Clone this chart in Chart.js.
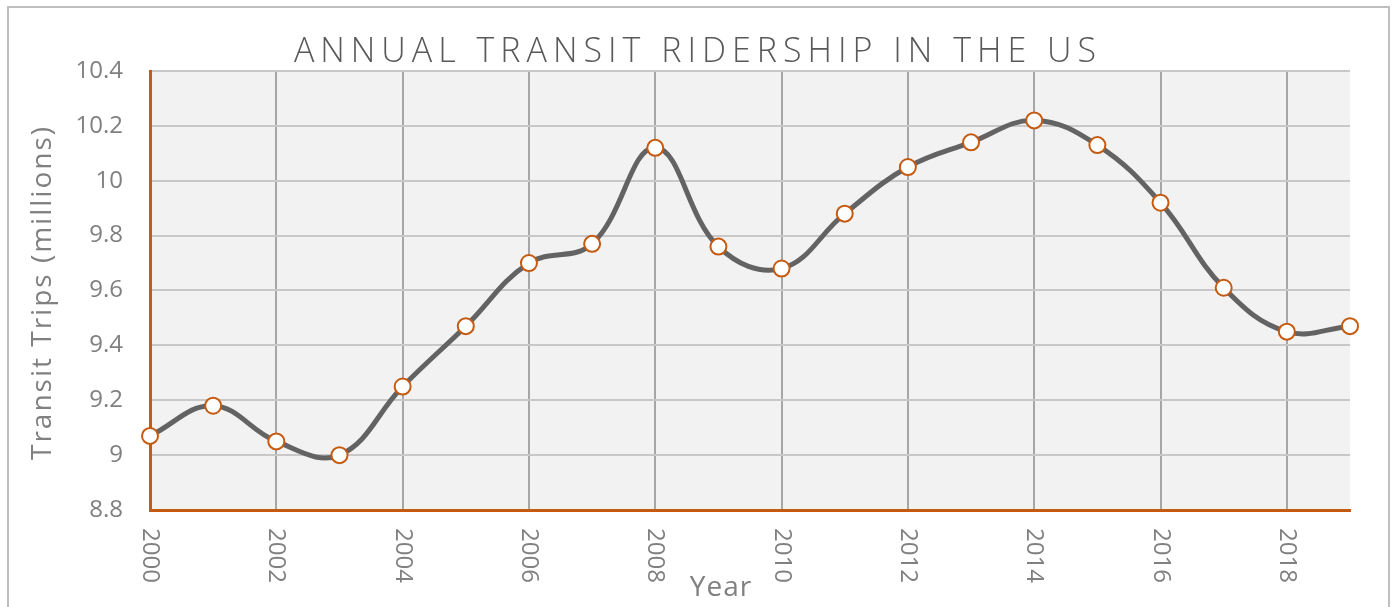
<!DOCTYPE html>
<html>
<head>
<meta charset="utf-8">
<script src="https://cdn.jsdelivr.net/npm/chart.js@4"></script>
<style>
  html, body { margin: 0; padding: 0; background: #fff; }
  #wrap { width: 1392px; height: 607px; }
</style>
</head>
<body>
<div id="wrap"><canvas id="ridership" width="1392" height="607"></canvas></div>
<script>
const years = ['2000', '2001', '2002', '2003', '2004', '2005', '2006', '2007', '2008', '2009',
  '2010', '2011', '2012', '2013', '2014', '2015', '2016', '2017', '2018', '2019'];
const trips = [9.07, 9.18, 9.05, 9.00, 9.25, 9.47, 9.70, 9.77, 10.12, 9.76,
  9.68, 9.88, 10.05, 10.14, 10.22, 10.13, 9.92, 9.61, 9.45, 9.47];
const chartTitle = 'ANNUAL TRANSIT RIDERSHIP IN THE US';
const xTitle = 'Year';
const yTitle = 'Transit Trips (millions)';

const orange = '#c55a11';
const textGray = '#808080';
const font = "'Open Sans', 'Noto Sans', sans-serif";

// plot background, outer frame, titles and the top-to-bottom year labels
const decor = {
  id: 'decor',
  beforeDraw(chart) {
    const { ctx, chartArea: a } = chart;
    ctx.save();
    ctx.fillStyle = '#f2f2f2';
    ctx.fillRect(a.left, a.top, a.right - a.left, a.bottom - a.top);
    ctx.strokeStyle = '#bfbfbf';
    ctx.lineWidth = 2;
    ctx.strokeRect(8, 7, 1381, 640);
    ctx.restore();
  },
  afterDraw(chart) {
    const { ctx, chartArea: a } = chart;
    const x = chart.scales.x;
    ctx.save();
    ctx.fillStyle = '#595959';
    ctx.font = '300 34px ' + font;
    ctx.letterSpacing = '6px';
    ctx.textAlign = 'center';
    ctx.textBaseline = 'alphabetic';
    ctx.fillText(chartTitle, 698, 62);
    ctx.restore();

    ctx.save();
    ctx.fillStyle = textGray;
    ctx.font = '24px ' + font;
    ctx.textAlign = 'left';
    ctx.textBaseline = 'middle';
    x.ticks.forEach((t, i) => {
      if (t.label == null) return;
      const px = x.getPixelForTick(i);
      ctx.save();
      ctx.translate(px, 528);
      ctx.rotate(Math.PI / 2);
      ctx.fillText(t.label, 0, 0);
      ctx.restore();
    });
    ctx.font = '28px ' + font;
    ctx.letterSpacing = '1px';
    ctx.textAlign = 'center';
    ctx.textBaseline = 'alphabetic';
    ctx.fillText(xTitle, 721, 596);

    ctx.letterSpacing = '2px';
    ctx.textBaseline = 'middle';
    ctx.translate(43, (a.top + a.bottom) / 2 + 2);
    ctx.rotate(-Math.PI / 2);
    ctx.fillText(yTitle, 0, 0);
    ctx.restore();
  }
};

new Chart('ridership', {
  type: 'line',
  data: {
    labels: years,
    datasets: [{
      data: trips,
      borderColor: '#636363',
      borderWidth: 5,
      tension: 0.4,
      fill: false,
      clip: false,
      pointRadius: 8,
      pointBorderWidth: 2,
      pointBackgroundColor: '#ffffff',
      pointBorderColor: orange,
    }],
  },
  options: {
    responsive: false,
    animation: false,
    layout: { padding: { top: 71, right: 42, left: 0, bottom: 0 } },
    plugins: {
      legend: { display: false },
      tooltip: { enabled: false },
      title: { display: false },
    },
    scales: {
      x: {
        type: 'category',
        offset: false,
        afterFit(s) { s.height = 97; },
        grid: { color: '#a6a6a6', lineWidth: 2, drawTicks: false },
        border: { color: orange, width: 3 },
        ticks: {
          autoSkip: false,
          maxRotation: 0,
          color: 'transparent',
          font: { family: font, size: 24 },
          callback(v, i) { return i % 2 === 0 ? this.getLabelForValue(v) : null; },
        },
      },
      y: {
        min: 8.8,
        max: 10.4,
        afterFit(s) { s.width = 150; },
        grid: { color: '#c8c8c8', lineWidth: 2, drawTicks: false },
        border: { color: orange, width: 3 },
        ticks: {
          stepSize: 0.2,
          padding: 27,
          color: textGray,
          font: { family: font, size: 24 },
          callback(v) { return String(+v.toFixed(1)); },
        },
      },
    },
  },
  plugins: [decor],
});
</script>
</body>
</html>
